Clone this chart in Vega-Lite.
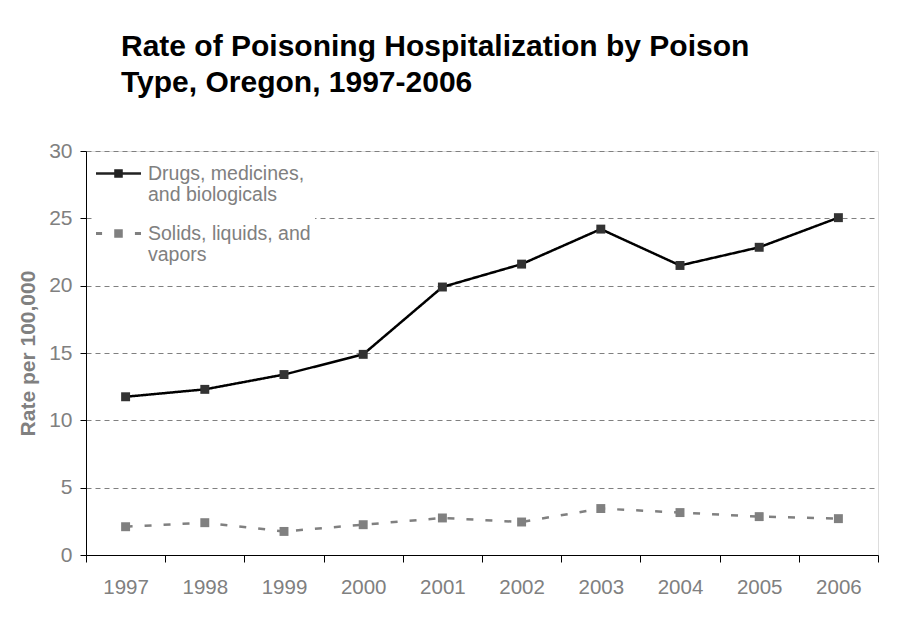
{
  "$schema": "https://vega.github.io/schema/vega-lite/v6.json",
  "autosize": {"type": "none"},
  "padding": {"left": 86, "top": 151, "right": 19, "bottom": 76},
  "width": 792,
  "height": 404,
  "background": "white",
  "title": {
    "text": ["Rate of Poisoning Hospitalization by Poison", "Type, Oregon, 1997-2006"],
    "anchor": "start",
    "frame": "group",
    "dx": 35,
    "offset": 42,
    "font": "Liberation Sans",
    "fontSize": 30,
    "fontWeight": "bold",
    "color": "#000000",
    "lineHeight": 36
  },
  "data": {
    "values": [
      {"year": "1997", "series": "Drugs, medicines, and biologicals", "rate": 11.75},
      {"year": "1998", "series": "Drugs, medicines, and biologicals", "rate": 12.3},
      {"year": "1999", "series": "Drugs, medicines, and biologicals", "rate": 13.4},
      {"year": "2000", "series": "Drugs, medicines, and biologicals", "rate": 14.9},
      {"year": "2001", "series": "Drugs, medicines, and biologicals", "rate": 19.9},
      {"year": "2002", "series": "Drugs, medicines, and biologicals", "rate": 21.6},
      {"year": "2003", "series": "Drugs, medicines, and biologicals", "rate": 24.2},
      {"year": "2004", "series": "Drugs, medicines, and biologicals", "rate": 21.5},
      {"year": "2005", "series": "Drugs, medicines, and biologicals", "rate": 22.85},
      {"year": "2006", "series": "Drugs, medicines, and biologicals", "rate": 25.05},
      {"year": "1997", "series": "Solids, liquids, and vapors", "rate": 2.1},
      {"year": "1998", "series": "Solids, liquids, and vapors", "rate": 2.4},
      {"year": "1999", "series": "Solids, liquids, and vapors", "rate": 1.75},
      {"year": "2000", "series": "Solids, liquids, and vapors", "rate": 2.25},
      {"year": "2001", "series": "Solids, liquids, and vapors", "rate": 2.75},
      {"year": "2002", "series": "Solids, liquids, and vapors", "rate": 2.45},
      {"year": "2003", "series": "Solids, liquids, and vapors", "rate": 3.45},
      {"year": "2004", "series": "Solids, liquids, and vapors", "rate": 3.15},
      {"year": "2005", "series": "Solids, liquids, and vapors", "rate": 2.85},
      {"year": "2006", "series": "Solids, liquids, and vapors", "rate": 2.7}
    ]
  },
  "encoding": {
    "x": {
      "field": "year",
      "type": "ordinal",
      "scale": {"paddingInner": 0, "paddingOuter": 0},
      "axis": {
        "title": null,
        "labelAngle": 0,
        "tickBand": "extent",
        "labelPadding": 15,
        "tickSize": 7,
        "domainColor": "#000000",
        "tickColor": "#000000",
        "labelColor": "#808080",
        "labelFont": "Liberation Sans",
        "labelFontSize": 20.5,
        "grid": false
      }
    },
    "y": {
      "field": "rate",
      "type": "quantitative",
      "scale": {"domain": [0, 30], "nice": false},
      "axis": {
        "title": "Rate per 100,000",
        "titleColor": "#808080",
        "titleFont": "Liberation Sans",
        "titleFontSize": 21,
        "titleFontWeight": "bold",
        "titlePadding": 10,
        "values": [0, 5, 10, 15, 20, 25, 30],
        "tickSize": 6,
        "labelPadding": 8,
        "domainColor": "#000000",
        "tickColor": "#000000",
        "labelColor": "#808080",
        "labelFont": "Liberation Sans",
        "labelFontSize": 21,
        "grid": true,
        "gridColor": "#808080",
        "gridDash": [5, 4],
        "gridWidth": 1
      }
    }
  },
  "layer": [
    {
      "mark": {"type": "line", "strokeWidth": 2.5},
      "encoding": {
        "color": {
          "field": "series",
          "type": "nominal",
          "scale": {"range": ["#000000", "#808080"]},
          "legend": {
            "title": null,
            "orient": "none",
            "legendX": 6,
            "legendY": 7,
            "fillColor": "white",
            "padding": 4,
            "labelColor": "#808080",
            "labelFont": "Liberation Sans",
            "labelFontSize": 19.5,
            "labelLineHeight": 22,
            "labelLimit": 400,
            "labelOffset": 7,
            "symbolSize": 2025,
            "rowPadding": 17,
            "labelExpr": "datum.label == 'Drugs, medicines, and biologicals' ? ['Drugs, medicines,', 'and biologicals'] : ['Solids, liquids, and', 'vapors']",
            "encode": {
              "labels": {
                "update": {
                  "dy": {"value": -11}
                }
              },
              "symbols": {
                "update": {
                  "shape": {"signal": "datum.value == 'Drugs, medicines, and biologicals' ? 'M-1,-0.545H1V-0.435H-1Z M-0.19,-0.68H0.19V-0.3H-0.19Z' : 'M-1,-0.56H-0.73V-0.42H-1Z M-0.19,-0.68H0.19V-0.3H-0.19Z M0.73,-0.56H1V-0.42H0.73Z'"},
                  "fill": {"signal": "datum.value == 'Drugs, medicines, and biologicals' ? '#222222' : '#808080'"},
                  "stroke": {"value": "transparent"},
                  "strokeWidth": {"value": 0},
                  "strokeDash": {"value": [1, 0]},
                  "opacity": {"value": 1}
                }
              }
            }
          }
        },
        "strokeDash": {
          "field": "series",
          "type": "nominal",
          "scale": {"range": [[1, 0], [7, 12]]},
          "legend": null
        }
      }
    },
    {
      "mark": {"type": "point", "shape": "square", "filled": true, "size": 80, "opacity": 1},
      "encoding": {
        "fill": {
          "field": "series",
          "type": "nominal",
          "scale": {"range": ["#333333", "#808080"]},
          "legend": null
        }
      }
    }
  ]
}
